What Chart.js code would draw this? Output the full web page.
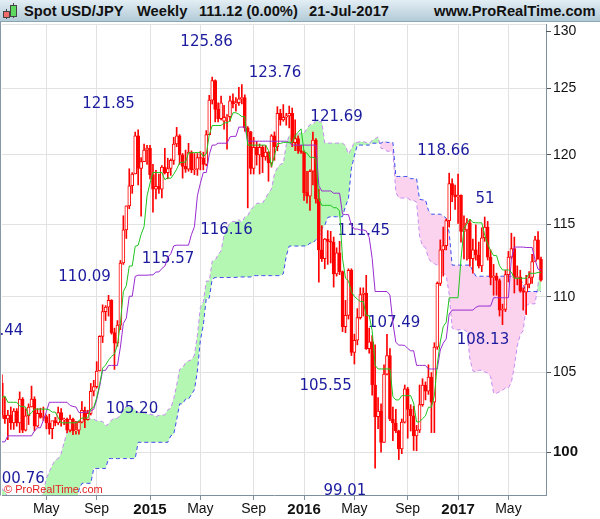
<!DOCTYPE html>
<html><head><meta charset="utf-8">
<script src="https://cdn.jsdelivr.net/npm/chart.js@4/dist/chart.umd.min.js"></script>
<style>
html,body{margin:0;padding:0;background:#fff;}
#wrap{position:relative;width:600px;height:519px;overflow:hidden;background:#fff;}
#c{position:absolute;left:0;top:0;}
#hdr{position:absolute;left:0;top:0;width:600px;height:21px;background:linear-gradient(#e3eef4,#b3cbd8);border-bottom:1px solid #8ea3b0;font:bold 14.7px "Liberation Sans",Arial,sans-serif;color:#111;}
#hdr span{position:absolute;top:0;line-height:22px;white-space:nowrap;}
.ic{position:absolute;border:1px solid #444;}
.wk{position:absolute;width:1px;background:#444;}
</style></head><body>
<div id="wrap">
<canvas id="c" width="600" height="519"></canvas>
<div id="hdr">
  <div class="wk" style="left:6px;top:9px;height:10px"></div>
  <div class="ic" style="left:3px;top:11px;width:5px;height:5px;background:#f06a6a"></div>
  <div class="wk" style="left:13px;top:3px;height:15px"></div>
  <div class="ic" style="left:10px;top:5px;width:5px;height:10px;background:#5fd85f"></div>
  <span style="left:24px">Spot USD/JPY</span>
  <span style="left:137px">Weekly</span>
  <span style="left:199px">111.12 (0.00%)</span>
  <span style="left:309px">21-Jul-2017</span>
  <span style="left:434px">www.ProRealTime.com</span>
</div>
</div>
<script>
// ---- data (weekly bars, first bar = week of 20 Jan 2014) ----
const weekStart = '2014-01-20';
const opens = [104.30,102.30,102.05,102.30,101.80,102.55,101.80,103.30,101.35,102.25,
 102.80,103.30,101.60,102.40,102.15,102.20,101.80,101.45,101.95,101.80,
 102.45,102.00,102.05,101.35,102.05,101.30,101.35,101.85,102.60,102.00,
 102.40,103.80,104.10,105.10,107.35,109.00,109.30,109.75,107.60,106.90,
 108.10,112.30,114.60,116.30,117.75,118.60,121.40,119.00,119.50,120.35,
 120.50,118.55,117.50,117.70,117.50,119.10,118.70,119.00,119.60,120.80,
 121.40,120.00,119.15,118.95,120.20,118.90,118.95,119.80,119.75,119.30,
 121.50,124.10,125.60,123.40,122.70,122.50,122.80,122.85,124.05,123.80,
 123.90,124.20,124.30,122.00,121.70,119.00,120.55,120.00,120.55,119.85,
 120.20,119.40,121.40,120.60,123.10,122.60,122.80,122.90,123.10,120.90,
 121.20,120.30,120.20,117.25,117.00,118.80,121.10,116.80,113.20,112.60,
 113.95,113.80,113.75,111.55,113.00,111.70,108.00,108.75,111.80,106.30,
 107.10,108.60,110.15,110.25,106.55,107.00,104.20,102.20,102.55,100.60,
 104.90,106.10,102.05,101.80,101.30,100.20,101.85,103.95,102.65,102.25,
 101.00,101.35,102.95,104.20,103.80,104.70,103.10,106.65,110.90,113.20,
 113.50,115.25,117.90,117.10,116.95,117.05,114.50,114.60,115.10,112.60,
 113.20,112.85,112.10,114.05,114.80,112.70,111.30,111.40,111.10,109.10,
 109.15,111.50,112.70,113.30,111.30,111.35,110.40,110.30,110.85,111.30,
 112.40,113.90,112.55];
const highs = [104.85,103.43,102.60,102.80,102.70,102.70,103.76,103.40,102.70,103.00,
 104.13,103.45,102.70,102.73,102.80,102.30,102.35,101.80,102.15,102.80,
 102.70,102.10,102.10,102.30,102.10,101.90,101.90,103.15,102.80,102.60,
 104.30,104.50,105.70,107.40,109.45,109.40,110.09,109.80,107.90,108.40,
 112.47,115.60,116.30,118.98,118.70,121.69,121.85,119.80,120.80,120.70,
 120.70,119.30,118.86,118.60,119.22,120.48,119.75,119.70,121.30,122.04,
 121.50,120.10,120.35,120.85,120.30,120.10,120.10,120.25,120.20,121.80,
 124.46,125.86,125.65,123.90,124.40,123.70,123.00,124.40,124.58,124.30,
 125.07,125.28,124.50,122.10,121.75,121.30,121.00,120.80,120.70,120.70,
 120.25,121.50,121.70,123.60,123.40,123.76,123.10,123.65,123.50,122.60,
 121.40,120.70,120.30,118.80,118.90,121.69,121.20,117.50,114.90,114.00,
 114.55,114.50,114.10,113.35,113.80,111.75,109.75,111.90,111.90,107.50,
 109.20,110.60,110.60,111.45,107.90,107.40,106.80,103.40,103.00,105.50,
 107.49,106.55,102.80,102.65,101.35,102.05,104.20,104.05,102.95,102.85,
 101.65,104.20,104.60,104.40,105.50,105.00,106.94,111.00,113.90,114.80,
 115.37,118.66,118.25,117.80,118.60,117.10,115.60,115.40,115.35,113.95,
 114.95,113.75,114.75,115.51,115.20,113.20,112.20,111.60,111.20,109.50,
 111.80,113.10,114.37,114.10,112.10,111.80,110.60,111.45,111.70,112.90,
 114.15,114.49,112.70];
const lows = [102.10,101.77,100.76,101.40,101.40,101.60,101.20,101.20,101.30,101.70,
 102.80,101.32,101.55,102.10,101.95,101.43,101.10,100.82,101.62,101.70,
 101.60,101.70,101.20,101.25,101.07,101.10,101.10,101.80,101.50,101.98,
 102.30,103.50,104.00,105.10,106.95,108.40,108.70,107.50,105.20,106.70,
 107.80,112.20,114.00,116.10,117.20,118.60,117.80,115.57,119.50,119.30,
 118.25,115.86,116.80,117.20,116.87,118.60,118.25,118.50,119.30,120.60,
 119.30,118.30,118.72,118.80,118.70,118.55,118.50,118.90,118.90,119.20,
 121.50,123.80,122.45,122.45,122.60,121.90,120.41,122.50,123.50,123.25,
 123.70,123.80,121.75,116.16,118.60,118.60,119.25,118.60,118.70,119.60,
 118.07,119.10,119.60,120.30,122.20,122.50,122.20,122.00,120.60,120.30,
 120.10,120.10,116.70,116.50,115.98,117.80,116.50,110.98,112.40,111.90,
 112.20,112.30,110.65,111.40,111.50,107.67,107.60,108.50,106.10,105.55,
 106.80,108.50,108.70,106.50,106.25,103.55,99.01,101.45,99.99,100.60,
 104.85,101.95,100.70,101.20,99.54,99.90,101.80,100.85,101.30,100.10,
 100.08,101.20,102.85,103.25,103.60,101.20,101.20,106.50,110.75,111.40,
 113.20,114.80,116.60,116.05,115.05,113.75,112.57,112.50,112.08,111.60,
 112.50,111.95,111.70,113.80,112.50,110.80,110.10,110.10,108.70,108.13,
 109.00,111.00,112.60,110.25,110.80,110.30,109.10,108.80,110.60,110.90,
 112.40,112.65,111.05];
const closes = [102.30,102.05,102.30,101.80,102.55,101.80,103.30,101.35,102.25,102.80,
 103.30,101.60,102.40,102.15,102.20,101.80,101.45,101.95,101.80,102.45,
 102.00,102.05,101.35,102.05,101.30,101.35,101.85,102.60,102.00,102.40,
 103.80,104.10,105.10,107.35,109.00,109.30,109.75,107.60,106.90,108.10,
 112.30,114.60,116.30,117.75,118.60,121.40,119.00,119.50,120.35,120.50,
 118.55,117.50,117.70,117.50,119.10,118.70,119.00,119.60,120.80,121.40,
 120.00,119.15,118.95,120.20,118.90,118.95,119.80,119.75,119.30,121.50,
 124.10,125.60,123.40,122.70,123.90,122.80,122.85,124.05,123.80,123.90,
 124.20,124.30,122.00,121.70,119.00,120.55,120.00,120.55,119.85,120.20,
 119.40,121.40,120.60,123.10,122.60,122.80,122.90,123.10,120.90,121.20,
 120.30,120.20,117.25,117.00,118.80,121.10,116.80,113.20,112.60,113.95,
 113.80,113.75,111.55,113.00,111.70,108.00,108.75,111.80,106.30,107.10,
 108.60,110.15,110.25,106.55,107.00,104.20,102.20,102.55,100.60,104.90,
 106.10,102.05,101.80,101.30,100.20,101.85,103.95,102.65,102.25,101.00,
 101.35,102.95,104.20,103.80,104.70,103.10,106.65,110.90,113.20,113.50,
 115.25,117.90,117.10,116.95,117.05,114.50,114.60,115.10,112.60,113.20,
 112.85,112.10,114.05,114.80,112.70,111.30,111.40,111.10,109.10,109.15,
 111.50,112.70,113.30,111.30,111.35,110.40,110.30,110.85,111.30,112.40,
 113.90,112.55,111.12];
const tenkan = [103.4,103.5,103.1,103.1,103.1,103.1,102.86,102.84,102.8,102.26,
 102.45,102.67,102.67,102.67,102.67,102.67,102.62,102.48,102.48,102.14,
 101.81,101.81,101.81,101.81,101.81,101.81,101.94,102.11,102.11,102.11,
 102.69,102.79,103.39,104.25,105.28,105.48,105.80,106.04,106.20,106.80,
 108.24,110.35,110.75,112.09,112.09,113.45,113.53,114.28,114.83,117.03,
 117.93,118.71,118.71,118.71,118.71,118.19,118.33,118.28,118.58,118.95,
 119.42,119.46,119.46,120.15,120.15,120.17,120.17,120.17,119.90,120.05,
 121.48,122.18,122.18,122.18,122.18,122.38,122.38,122.53,123.14,123.14,
 123.03,122.85,122.85,120.72,120.72,120.72,120.72,120.72,120.72,120.72,
 120.33,119.13,119.91,120.84,120.84,120.92,120.92,120.92,120.92,121.43,
 121.68,121.93,120.23,120.13,119.82,119.82,119.74,116.79,116.34,116.34,
 116.34,116.34,116.17,116.17,115.93,112.59,111.25,111.08,110.33,110.03,
 109.83,109.68,109.68,108.73,108.73,107.73,105.46,105.23,105.23,105.23,
 105.23,105.23,103.46,103.25,103.25,103.52,103.52,103.52,103.52,103.05,
 101.87,101.87,102.07,102.25,102.79,102.79,103.51,105.54,106.99,108.00,
 108.29,109.93,109.93,109.93,109.93,112.58,114.71,115.03,115.37,115.13,
 115.10,115.10,115.10,114.25,113.60,113.16,112.81,112.81,112.11,111.82,
 111.82,111.82,111.67,111.25,111.25,111.25,111.25,111.25,111.59,111.59,
 111.59,111.65,111.65];
const kijun = [100.63,100.63,101.0,101.0,101.0,101.0,101.0,101.0,101.0,101.0,
 101.0,101.3,101.5,101.5,101.97,102.5,103.1,103.1,103.1,103.1,
 103.1,103.1,103.1,102.9,102.84,102.8,102.45,102.45,102.48,102.48,
 102.56,102.66,103.26,104.11,105.14,105.14,105.46,105.46,105.46,105.46,
 106.65,108.21,108.56,110.03,110.03,111.38,111.46,111.46,111.46,111.46,
 111.48,111.48,111.68,111.68,111.92,112.08,112.68,112.93,113.48,113.53,
 113.53,113.53,113.53,113.53,114.28,114.83,117.03,117.93,118.71,118.71,
 120.02,120.72,120.72,120.86,120.86,120.86,120.86,121.33,121.37,121.37,
 122.06,122.06,122.08,121.01,121.01,121.01,121.01,121.01,121.01,121.01,
 121.01,121.01,121.01,121.01,121.01,121.01,121.01,120.91,120.72,120.72,
 120.72,120.72,120.72,120.72,120.72,120.72,120.72,117.74,117.37,117.37,
 117.37,117.37,117.21,117.21,117.21,115.72,115.68,115.68,114.93,114.66,
 114.66,114.60,114.60,114.53,114.08,112.62,110.35,110.35,110.35,110.35,
 110.35,110.11,108.26,106.96,106.78,106.78,106.76,106.56,106.41,106.41,
 105.46,105.46,105.46,105.46,105.23,105.23,105.23,105.23,106.46,106.91,
 107.19,108.84,109.10,109.10,109.10,109.10,109.10,109.10,109.10,109.10,
 109.28,109.37,109.37,109.37,109.37,109.37,109.93,109.93,109.93,109.93,
 109.93,109.93,112.58,113.40,113.40,113.40,113.40,113.37,113.37,113.37,
 112.52,111.87,111.82];
const spanA = [97.8,97.6,97.3,97.0,96.9,96.8,96.8,96.9,97.0,97.0,
 97.0,97.1,97.1,97.2,97.5,98.4,98.8,99.2,99.5,99.6,
 99.9,100.6,101.2,101.5,101.6,101.8,102.02,102.07,102.05,102.05,
 102.05,102.05,101.93,101.92,101.90,101.63,101.73,101.99,102.09,102.09,
 102.32,102.59,102.86,102.79,102.79,102.62,102.46,102.46,102.46,102.36,
 102.33,102.31,102.20,102.28,102.30,102.30,102.63,102.73,103.33,104.18,
 105.21,105.31,105.63,105.75,105.83,106.13,107.45,109.28,109.66,111.06,
 111.06,112.42,112.50,112.87,113.15,114.25,114.71,115.10,115.20,115.20,
 115.32,115.14,115.51,115.61,116.03,116.24,116.48,116.50,116.50,116.84,
 117.22,117.50,118.60,119.05,119.31,119.38,120.75,121.45,121.45,121.52,
 121.52,121.62,121.62,121.93,122.26,122.26,122.55,122.46,122.47,120.87,
 120.87,120.87,120.87,120.87,120.87,120.87,120.67,120.07,120.46,120.93,
 120.93,120.97,120.97,120.92,120.82,121.08,121.20,121.33,120.48,120.43,
 120.27,120.27,120.23,117.27,116.86,116.86,116.86,116.86,116.69,116.69,
 116.57,114.16,113.47,113.38,112.63,112.35,112.25,112.14,112.14,111.63,
 111.41,110.18,107.91,107.79,107.79,107.79,107.79,107.67,105.86,105.11,
 105.02,105.15,105.14,105.04,104.97,104.73,103.67,103.67,103.77,103.86,
 104.01,104.01,104.37,105.39,106.73,107.46,107.74,109.39,109.52,109.52,
 109.52,110.84,111.91];
const spanB = [90.6,90.6,90.7,90.8,90.9,91.0,91.0,91.1,91.2,91.3,
 91.4,91.4,91.5,91.7,91.9,92.2,92.5,92.7,93.1,93.4,
 93.8,94.2,94.8,95.6,96.2,96.8,97.7,98.1,98.1,98.1,
 98.1,99.0,99.0,99.0,99.0,99.0,99.6,99.6,99.6,99.6,
 99.6,99.6,99.6,99.6,99.6,99.6,100.6,100.6,100.6,100.6,
 100.6,100.6,100.6,100.6,100.6,100.6,100.6,101.0,101.1,102.0,
 103.0,103.0,103.3,103.3,103.6,103.9,105.1,107.1,108.1,109.9,
 109.9,111.2,111.3,111.3,111.3,111.3,111.3,111.31,111.31,111.31,
 111.34,111.34,111.34,111.34,111.34,111.43,111.43,111.43,111.43,111.43,
 111.43,111.43,111.43,111.43,111.43,111.56,112.77,113.47,113.47,113.47,
 113.47,113.47,113.48,113.48,113.68,113.68,113.92,114.08,114.68,114.93,
 115.48,115.53,115.53,115.53,115.53,115.53,116.28,116.83,119.03,119.93,
 120.72,120.72,120.72,120.72,120.72,120.86,120.86,120.86,120.86,121.01,
 120.92,120.92,120.92,118.42,118.42,118.42,118.42,118.42,118.26,118.26,
 118.26,116.77,116.73,116.73,115.98,115.71,115.71,115.71,115.71,115.60,
 115.42,114.42,112.15,112.15,112.15,112.15,112.15,112.15,112.15,111.76,
 111.39,111.39,111.39,111.39,111.39,111.39,111.39,111.39,111.39,111.39,
 111.39,111.39,111.39,111.33,111.33,111.26,110.81,110.35,110.35,110.35,
 110.35,110.35,110.35];
const tickDates = ['2014-05-05','2014-09-01','2015-01-05','2015-05-04','2015-09-07','2016-01-04','2016-05-02','2016-09-05','2017-01-02','2017-05-01'];
const tickLabels = ['May','Sep','2015','May','Sep','2016','May','Sep','2017','May'];
const yTicks = [100,105,110,115,120,125,130];
// high/low annotations: text, week position, price position
const noteTexts  = ['125.86','123.76','121.85','121.69','118.66','51','116.16','115.57','110.09','111.45','107.49','108.13','105.55','105.20','99.01','105.44','100.76'];
const noteWeeks  = [69.1,92.2,36.0,113.0,149.1,163.1,75.8,56.1,27.9,122.2,132.4,162.4,109.3,43.9,115.8,-1.6,5.6];
const notePrices = [128.62,126.15,123.76,122.84,120.28,116.79,114.61,112.60,111.33,114.52,108.20,107.08,104.10,102.70,97.61,107.67,98.36];

// ---- chart ----
const WEEK = 7*86400000;
const t0 = Date.parse(weekStart);
const tickWeeks = tickDates.map(d => (Date.parse(d) - t0) / WEEK);
const pts = arr => arr.map((v,i) => ({x:i, y:v}));
const RED = '#ff0000';

const notesPlugin = {
  id: 'notes',
  afterDatasetDraw(chart, args) {
    if (args.index !== 1) return;
    const {ctx, chartArea:a, scales:{x, y}} = chart;
    ctx.save();
    ctx.beginPath(); ctx.rect(0, a.top, a.right, a.bottom-a.top); ctx.clip();
    ctx.font = '15px "DejaVu Sans"';
    ctx.fillStyle = '#1b1b9e';
    ctx.textAlign = 'center'; ctx.textBaseline = 'middle';
    noteTexts.forEach((t,k) => ctx.fillText(t, x.getPixelForValue(noteWeeks[k]), y.getPixelForValue(notePrices[k])));
    ctx.restore();
  },
  afterDraw(chart) {
    const {ctx, chartArea:a, scales:{y}} = chart;
    ctx.save();
    // left frame line
    ctx.strokeStyle = '#8797a3'; ctx.lineWidth = 1;
    ctx.beginPath(); ctx.moveTo(0.5, 22); ctx.lineTo(0.5, a.bottom + 0.5); ctx.stroke();
    // top tick label (shifted below header)
    const py = Math.round(y.getPixelForValue(130)) + 7.5;
    ctx.strokeStyle = '#555';
    ctx.beginPath(); ctx.moveTo(a.right, py); ctx.lineTo(a.right + 5, py); ctx.stroke();
    ctx.fillStyle = '#111'; ctx.font = '14px "Liberation Sans"';
    ctx.textAlign = 'left'; ctx.textBaseline = 'middle';
    ctx.fillText('130', a.right + 7, py);
    // watermark
    ctx.fillStyle = '#e52020'; ctx.font = '11px "Liberation Sans"';
    ctx.textBaseline = 'alphabetic';
    ctx.fillText('\u00A9 ProRealTime.com', a.left + 2, a.bottom - 2);
    ctx.restore();
  }
};

new Chart(document.getElementById('c'), {
  type: 'line',
  data: {
    datasets: [
      { type:'line', label:'Senkou A', data: pts(spanA), borderColor:'#c58cf0', borderWidth:1, borderDash:[4,3], pointRadius:0, tension:0,
        fill:{target:1, above:'#b3f7b3', below:'#fbd3ef'}, order:10 },
      { type:'line', label:'Senkou B', data: pts(spanB), borderColor:'#3a4cf0', borderWidth:1, borderDash:[4,3], pointRadius:0, tension:0, fill:false, order:9 },
      { type:'bar', label:'wick', data: highs.map((h,i)=>({x:i, y:[lows[i], h]})), backgroundColor:RED, borderWidth:0, barThickness:1, grouped:false, order:5 },
      { type:'bar', label:'body', data: opens.map((o,i)=>({x:i, y:[o, closes[i]]})),
        backgroundColor: opens.map((o,i)=> closes[i] < o ? RED : '#ffffff'), borderColor:RED, borderWidth:1, borderSkipped:false,
        barThickness:3, grouped:false, order:4 },
      { type:'line', label:'Kijun', data: pts(kijun), borderColor:'#9a2bd0', borderWidth:1, pointRadius:0, tension:0, fill:false, order:2 },
      { type:'line', label:'Tenkan', data: pts(tenkan), borderColor:'#1fc41f', borderWidth:1, pointRadius:0, tension:0, fill:false, order:1 }
    ]
  },
  options: {
    responsive:false, animation:false, events:[],
    layout:{ padding:{ left:2, top:24, right:0, bottom:0 } },
    plugins:{ legend:{display:false}, tooltip:{enabled:false} },
    scales:{
      x:{ type:'linear', min:0.03, max:183.69, offset:false, bounds:'data',
        afterBuildTicks: s => { s.ticks = tickWeeks.map(v => ({value:v})); },
        afterFit: s => { s.height = 24; },
        grid:{ color:'#e2e2e2', tickColor:'#7f8f9b', tickLength:5, offset:false },
        border:{ display:true, color:'#7f8f9b', width:1 },
        ticks:{ autoSkip:false, maxRotation:0, padding:1, color:'#111',
          callback: (v, i) => tickLabels[i],
          font: c => { const yr = /^\d{4}$/.test(tickLabels[c.index] || ''); return {family:'Liberation Sans', size: yr ? 15 : 14, weight: yr ? 'bold' : 'normal'}; } }
      },
      y:{ type:'logarithmic', position:'right', min:97.40, max:130.03, bounds:'data',
        afterBuildTicks: s => { s.ticks = yTicks.map(v => ({value:v})); },
        afterFit: s => { s.width = 54; },
        grid:{ color:'#e2e2e2', tickLength:5, tickColor: c => (c.tick && c.tick.value === 130) ? 'rgba(0,0,0,0)' : '#555' },
        border:{ display:true, color:'#7f8f9b', width:1 },
        ticks:{ padding:2, color:'#111', autoSkip:false,
          callback: v => (v === 130 ? '' : String(v)),
          font: c => ({family:'Liberation Sans', size: (c.tick && c.tick.value === 100) ? 15 : 14, weight: (c.tick && c.tick.value === 100) ? 'bold' : 'normal'}) }
      }
    }
  },
  plugins:[notesPlugin]
});
</script>
</body></html>
